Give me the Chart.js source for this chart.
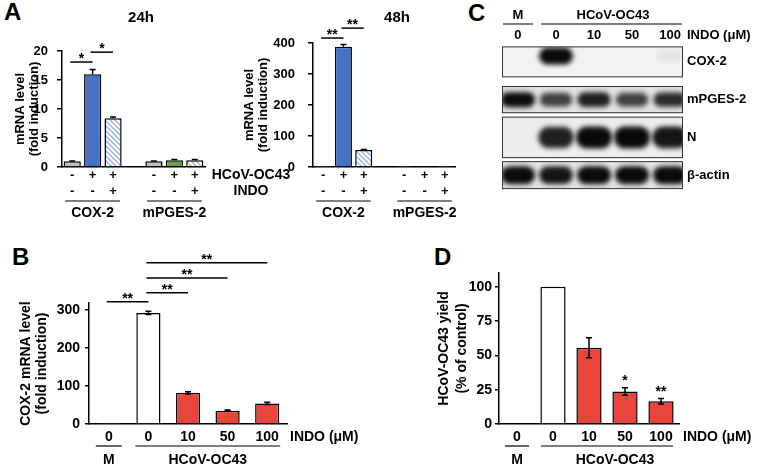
<!DOCTYPE html>
<html lang="en">
<head>
<meta charset="UTF-8">
<title>HCoV-OC43 / COX-2 / INDO</title>
<script src="https://cdn.jsdelivr.net/npm/chart.js@4.4.1/dist/chart.umd.min.js"></script>
<style>
  html, body { margin: 0; padding: 0; background: #fff; }
  body { width: 765px; height: 464px; position: relative; overflow: hidden;
         font-family: 'Liberation Sans', Arial, sans-serif; }
  canvas { position: absolute; }
  .letter { position: absolute; font-weight: bold; font-size: 24px; line-height: 1; }
</style>
</head>
<body>

<div class="letter" style="left:4px;top:0px">A</div>
<div class="letter" style="left:468px;top:1px">C</div>
<div class="letter" style="left:12px;top:245px">B</div>
<div class="letter" style="left:434px;top:245px">D</div>

<canvas id="a24"  width="300" height="225" style="left:0;top:0"></canvas>
<canvas id="a48"  width="240" height="225" style="left:235px;top:0"></canvas>
<canvas id="blot" width="295" height="200" style="left:470px;top:0"></canvas>
<canvas id="b"    width="400" height="239" style="left:0;top:225px"></canvas>
<canvas id="d"    width="365" height="239" style="left:400px;top:225px"></canvas>

<script>
    // ---- data ----
    const signLabels = [['-', '-'], ['+', '-'], ['+', '+'], ['', ''], ['-', '-'], ['+', '-'], ['+', '+']];
    const mrna24h    = [1.0, 16.0, 8.4, null, 1.0, 1.15, 1.15];
    const mrna24hErr = [0.05, 0.8, 0.2, null, 0.05, 0.15, 0.15];
    const mrna48h    = [1.0, 388, 55, null, 1.0, 1.0, 1.0];
    const mrna48hErr = [0, 7, 1.5, null, 0, 0, 0];

    const doseLabels   = ['0', '0', '10', '50', '100'];
    const cox2Mrna     = [1, 292, 82, 35, 54];
    const cox2MrnaErr  = [0, 4, 3, 1.5, 3];
    const virusYield    = [0, 100, 55.5, 23.7, 16.5];
    const virusYieldErr = [0, 0, 7.3, 2.7, 2.0];

    // western blot: relative band intensity per lane
    const blotRows    = ['COX-2', 'mPGES-2', 'N', 'β-actin'];
    const cox2Band    = [0, 1.0, 0, 0, 0.06];
    const mpges2Band  = [1.0, 0.75, 0.9, 0.75, 0.85];
    const nBand       = [0, 0.9, 1.0, 1.0, 0.95];
    const actinBand   = [1.0, 0.95, 1.0, 1.0, 1.0];

    // ---- styling ----
    Chart.defaults.font.family = "'Liberation Sans', Arial, sans-serif";
    Chart.defaults.font.weight = 'bold';
    Chart.defaults.color = '#000';

    const FONT = "'Liberation Sans', Arial, sans-serif";
    const GRAY = '#bfbfbf', BLUE = '#4472c4', GREEN = '#6ea03f', RED = '#e8453c';

    function hatch(ctx, line) {
        const c = document.createElement('canvas');
        c.width = 5; c.height = 5;
        const g = c.getContext('2d');
        g.fillStyle = '#fff';
        g.fillRect(0, 0, 5, 5);
        g.strokeStyle = line;
        g.lineWidth = 1.3;
        g.beginPath();
        g.moveTo(-1, -1); g.lineTo(6, 6);
        g.moveTo(-1, 4); g.lineTo(1, 6);
        g.moveTo(4, -1); g.lineTo(6, 1);
        g.stroke();
        return ctx.createPattern(c, 'repeat');
    }

    function star(ctx, text, x, yCenter) {
        ctx.font = 'bold 14px ' + FONT;
        ctx.textAlign = 'center';
        ctx.textBaseline = 'alphabetic';
        ctx.fillText(text, x, yCenter + 8);
    }

    function label(ctx, text, x, y, size, align) {
        ctx.font = 'bold ' + size + 'px ' + FONT;
        ctx.textAlign = align || 'center';
        ctx.textBaseline = 'middle';
        ctx.fillText(text, x, y);
    }

    function errorBars(err, both, cap) {
        return {
            id: 'errorBars',
            afterDatasetsDraw(chart) {
                const {ctx, scales: {y}} = chart;
                const vals = chart.data.datasets[0].data;
                ctx.save();
                ctx.strokeStyle = '#000';
                ctx.lineWidth = 1.5;
                chart.getDatasetMeta(0).data.forEach((bar, i) => {
                    const e = err[i];
                    if (!e) return;
                    const top = y.getPixelForValue(vals[i] + e);
                    const bot = y.getPixelForValue(both ? vals[i] - e : vals[i]);
                    ctx.beginPath();
                    ctx.moveTo(bar.x, top); ctx.lineTo(bar.x, bot);
                    ctx.moveTo(bar.x - cap, top); ctx.lineTo(bar.x + cap, top);
                    if (both) { ctx.moveTo(bar.x - cap, bot); ctx.lineTo(bar.x + cap, bot); }
                    ctx.stroke();
                });
                ctx.restore();
            }
        };
    }

    // brackets, stars, group underlines and side labels
    function extras(o) {
        return {
            id: 'extras',
            afterDraw(chart) {
                const {ctx, chartArea: a, scales: {x, y}} = chart;
                const px = i => x.getPixelForValue(i);
                ctx.save();
                ctx.fillStyle = '#000';
                ctx.strokeStyle = '#000';
                ctx.lineWidth = 1.5;

                if (o.title) label(ctx, o.title.text, o.title.x, o.title.y, 15);

                (o.sig || []).forEach(s => {
                    const ly = y.getPixelForValue(s.level);
                    const x0 = px(s.from) - 2, x1 = px(s.to);
                    ctx.beginPath(); ctx.moveTo(x0, ly); ctx.lineTo(x1, ly); ctx.stroke();
                    star(ctx, s.text, (x0 + x1) / 2, ly - 7);
                });
                (o.stars || []).forEach(s => star(ctx, s.text, px(s.at), y.getPixelForValue(s.level)));

                const row1 = a.bottom + o.xPad + 8;
                (o.rowLabels || []).forEach((t, k) =>
                    label(ctx, t, o.rowLabelX, row1 + 16 * k, o.gfs, o.rowAlign));

                const ul = a.bottom + o.ulDy, gl = a.bottom + o.glDy;
                ctx.lineWidth = 1.2;
                (o.groups || []).forEach(g => {
                    const x0 = px(g.from) - o.ext, x1 = px(g.to) + o.ext;
                    ctx.beginPath(); ctx.moveTo(x0, ul); ctx.lineTo(x1, ul); ctx.stroke();
                    label(ctx, g.text, (x0 + x1) / 2 + (g.dx || 0), gl, o.gfs);
                });
                ctx.restore();
            }
        };
    }

    function barChart(id, o) {
        const ctx = document.getElementById(id).getContext('2d');
        return new Chart(ctx, {
            type: 'bar',
            data: {
                labels: o.labels,
                datasets: [{
                    data: o.values,
                    backgroundColor: o.colors(ctx),
                    borderColor: '#000',
                    borderWidth: 1.5,
                    borderSkipped: 'bottom',
                    barPercentage: o.barPct,
                    categoryPercentage: 1
                }]
            },
            options: {
                responsive: false,
                animation: false,
                events: [],
                layout: {padding: o.padding},
                plugins: {legend: {display: false}, tooltip: {enabled: false}},
                scales: {
                    x: {
                        grid: {display: false, drawTicks: false},
                        border: {color: '#000', width: 1.5},
                        ticks: {font: {size: o.fs, lineHeight: 16 / o.fs}, padding: o.xPad,
                                maxRotation: 0, autoSkip: false},
                        afterFit: s => { s.height = o.xH; }
                    },
                    y: {
                        min: 0, max: o.max,
                        ticks: {stepSize: o.step, includeBounds: false, font: {size: o.fs}, padding: o.yPad},
                        grid: {display: true, drawOnChartArea: false, tickLength: o.tick,
                               color: '#000', lineWidth: 1.5},
                        border: {color: '#000', width: 1.5},
                        title: {display: true, text: o.yTitle,
                                font: {size: o.fs, lineHeight: o.titleLH / o.fs},
                                padding: {top: o.titlePad, bottom: 0}},
                        afterFit: s => { s.width = o.yW; }
                    }
                }
            },
            plugins: [errorBars(o.err, o.errBoth, o.cap), extras(o)]
        });
    }

    const groupsA = [{from: 0, to: 2, text: 'COX-2'}, {from: 4, to: 6, text: 'mPGES-2'}];

    barChart('a24', {
        labels: signLabels, values: mrna24h, err: mrna24hErr, errBoth: false, cap: 3,
        colors: ctx => [GRAY, BLUE, hatch(ctx, '#8fb0e3'), GRAY, GRAY, GREEN, hatch(ctx, '#9cc47a')],
        barPct: 0.84, padding: {left: 0, top: 51, right: 95, bottom: 0},
        max: 20, step: 5, fs: 13, gfs: 14, yW: 62, tick: 5, yPad: 9,
        yTitle: ['mRNA level', '(fold induction)'], titleLH: 14, titlePad: 13,
        xH: 58, xPad: 0,
        title: {text: '24h', x: 141, y: 18},
        sig: [{from: 0, to: 1, level: 18.1, text: '*'}, {from: 1, to: 2, level: 19.8, text: '*'}],
        rowLabels: ['HCoV-OC43', 'INDO'], rowLabelX: 251,
        groups: groupsA, ext: 7, ulDy: 34, glDy: 46
    });

    barChart('a48', {
        labels: signLabels, values: mrna48h, err: mrna48hErr, errBoth: false, cap: 3,
        colors: ctx => [GRAY, BLUE, hatch(ctx, '#8fb0e3'), GRAY, GRAY, GREEN, hatch(ctx, '#9cc47a')],
        barPct: 0.84, padding: {left: 0, top: 43, right: 20, bottom: 0},
        max: 400, step: 100, fs: 13, gfs: 14, yW: 78, tick: 5, yPad: 13,
        yTitle: ['mRNA level', '(fold induction)'], titleLH: 14, titlePad: 7,
        xH: 58, xPad: 0,
        title: {text: '48h', x: 162, y: 18},
        sig: [{from: 0, to: 1, level: 416, text: '**'}, {from: 1, to: 2, level: 448, text: '**'}],
        groups: groupsA, ext: 7, ulDy: 34, glDy: 46
    });

    barChart('b', {
        labels: doseLabels, values: cox2Mrna, err: cox2MrnaErr, errBoth: true, cap: 3,
        colors: () => ['#fff', '#fff', RED, RED, RED],
        barPct: 0.61, padding: {left: 0, top: 78, right: 113, bottom: 0},
        max: 318, step: 100, fs: 14, gfs: 14, yW: 89, tick: 4, yPad: 5,
        yTitle: ['COX-2 mRNA level', '(fold induction)'], titleLH: 16, titlePad: 18,
        xH: 40, xPad: 5,
        sig: [{from: 0, to: 1, level: 321, text: '**'}, {from: 1, to: 2, level: 345, text: '**'},
              {from: 1, to: 3, level: 384, text: '**'}, {from: 1, to: 4, level: 424, text: '**'}],
        rowLabels: ['INDO (μM)'], rowLabelX: 290, rowAlign: 'left',
        groups: [{from: 0, to: 0, text: 'M'}, {from: 1, to: 4, text: 'HCoV-OC43'}],
        ext: 13, ulDy: 22, glDy: 36
    });

    barChart('d', {
        labels: doseLabels, values: virusYield, err: virusYieldErr, errBoth: true, cap: 3,
        colors: () => ['#fff', '#fff', RED, RED, RED],
        barPct: 0.7, padding: {left: 0, top: 48, right: 86, bottom: 0},
        max: 110, step: 25, fs: 14, gfs: 14, yW: 99, tick: 4, yPad: 3,
        yTitle: ['HCoV-OC43 yield', '(% of control)'], titleLH: 18, titlePad: 35,
        xH: 40, xPad: 5,
        stars: [{at: 3, level: 34.3, text: '*'}, {at: 4, level: 26.2, text: '**'}],
        rowLabels: ['INDO (μM)'], rowLabelX: 283, rowAlign: 'left',
        groups: [{from: 0, to: 0, text: 'M'}, {from: 1, to: 4, text: 'HCoV-OC43', dx: 8}],
        ext: 12, ulDy: 22, glDy: 36
    });

    // ---- panel C: western blot drawn on a scatter chart (lanes x rows) ----
    const blotBands = [cox2Band, mpges2Band, nBand, actinBand];
    const boxHalf  = [0.41, 0.36, 0.55, 0.37];
    const boxFill  = ['#f3f3f3', '#e2e2e2', '#ededed', '#e6e6e6'];
    const bandW    = [34, 34, 36, 34];
    const bandH    = [17, 15, 22, 18];
    const bandDy   = [-6, 0, 0, 0];

    const blotPlugin = {
        id: 'blot',
        beforeDatasetsDraw(chart) {
            const {ctx, chartArea: a, scales: {y}} = chart;
            ctx.save();
            blotRows.forEach((name, r) => {
                const t = y.getPixelForValue(r - boxHalf[r]), b = y.getPixelForValue(r + boxHalf[r]);
                ctx.fillStyle = boxFill[r];
                ctx.fillRect(a.left, t, a.right - a.left, b - t);
            });
            ctx.restore();
        },
        afterDatasetsDraw(chart) {
            const {ctx, chartArea: a, scales: {x, y}} = chart;
            ctx.save();
            chart.data.datasets.forEach((ds, r) => {
                const t = y.getPixelForValue(r - boxHalf[r]), b = y.getPixelForValue(r + boxHalf[r]);
                ctx.save();
                ctx.beginPath(); ctx.rect(a.left, t, a.right - a.left, b - t); ctx.clip();
                chart.getDatasetMeta(r).data.forEach((pt, i) => {
                    const v = ds.data[i].v;
                    if (!v) return;
                    const w = bandW[r] * (0.8 + 0.2 * v), h = bandH[r] * (0.7 + 0.3 * v);
                    ctx.filter = 'blur(2.5px)';
                    ctx.fillStyle = 'rgba(10,10,10,' + Math.min(1, v) + ')';
                    ctx.beginPath();
                    ctx.roundRect(pt.x - w / 2, pt.y + bandDy[r] - h / 2, w, h, h / 2);
                    ctx.fill();
                });
                ctx.restore();
                ctx.strokeStyle = '#333';
                ctx.lineWidth = 1;
                ctx.strokeRect(a.left + 0.5, t + 0.5, a.right - a.left - 1, b - t - 1);
                label(ctx, blotRows[r], a.right + 4, y.getPixelForValue(r), 13, 'left');
            });

            // lane header
            const lx = i => x.getPixelForValue(i);
            ctx.fillStyle = '#000';
            ctx.strokeStyle = '#000';
            ctx.lineWidth = 1.2;
            doseLabels.forEach((t, i) => label(ctx, t, lx(i), 35, 13));
            label(ctx, 'INDO (μM)', a.right + 4, 35, 13, 'left');
            label(ctx, 'M', lx(0), 15, 13);
            label(ctx, 'HCoV-OC43', (lx(1) + lx(4)) / 2, 15, 13);
            ctx.beginPath();
            ctx.moveTo(lx(0) - 15, 24); ctx.lineTo(lx(0) + 15, 24);
            ctx.moveTo(lx(1) - 15, 24); ctx.lineTo(lx(4) + 12, 24);
            ctx.stroke();
            ctx.restore();
        }
    };

    new Chart(document.getElementById('blot'), {
        type: 'scatter',
        data: {
            datasets: blotBands.map((band, r) => ({
                data: band.map((v, i) => ({x: i, y: r, v: v})),
                pointRadius: 0
            }))
        },
        options: {
            responsive: false,
            animation: false,
            events: [],
            layout: {padding: {left: 32, right: 82, top: 43, bottom: 6}},
            plugins: {legend: {display: false}, tooltip: {enabled: false}},
            scales: {
                x: {type: 'linear', min: -0.42, max: 4.34, display: false},
                y: {type: 'linear', min: -0.5, max: 3.5, reverse: true, display: false}
            }
        },
        plugins: [blotPlugin]
    });
</script>

</body>
</html>
